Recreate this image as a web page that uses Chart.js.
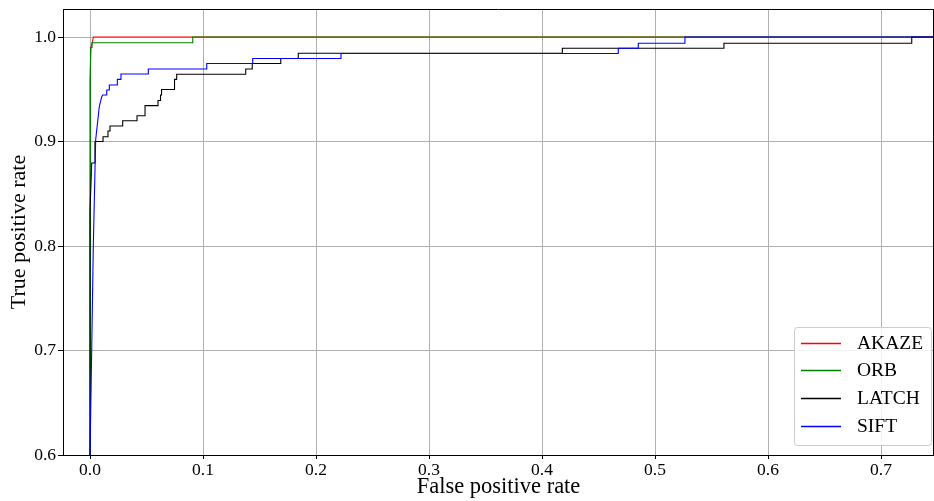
<!DOCTYPE html>
<html>
<head>
<meta charset="utf-8">
<script src="https://cdn.jsdelivr.net/npm/chart.js@4"></script>
<style>
  html, body { margin: 0; padding: 0; background: #fff; }
  #wrap { width: 934px; height: 501px; }
</style>
</head>
<body>
<div id="wrap"><canvas id="c" width="934" height="501"></canvas></div>
<script>
const seriesLabels = ["AKAZE", "ORB", "LATCH", "SIFT"];
const seriesColors = ["#ff0000", "#008000", "#000000", "#0000ff"];

const akazeFpr = [0, 0, 0.0009, 0.002, 0.003, 1];
const akazeTpr = [0, 0.959, 0.9907, 0.9945, 1.0, 1.0];

const orbFpr = [0, 0, 0.0006, 0.0006, 0.0018, 0.0018, 0.0909, 0.0909, 1];
const orbTpr = [0, 0.9876, 0.9876, 0.99, 0.99, 0.9945, 0.9945, 1.0, 1.0];

const latchFpr = [0, 0, 0.0015, 0.0044, 0.0044, 0.0115, 0.0115, 0.0159, 0.0159, 0.0177, 0.0177, 0.0289, 0.0289, 0.0416, 0.0416, 0.0487, 0.0487, 0.0602, 0.0602, 0.0624, 0.0624, 0.0633, 0.0633, 0.0748, 0.0748, 0.0767, 0.0767, 0.1378, 0.1378, 0.1436, 0.1436, 0.1688, 0.1688, 0.1843, 0.1843, 0.418, 0.418, 0.561, 0.561, 0.7272, 0.7272, 1];
const latchTpr = [0, 0.8344, 0.8794, 0.8794, 0.9, 0.9, 0.9046, 0.9046, 0.91, 0.91, 0.9148, 0.9148, 0.9199, 0.9199, 0.9247, 0.9247, 0.9343, 0.9343, 0.9392, 0.9392, 0.9445, 0.9445, 0.9498, 0.9498, 0.9595, 0.9595, 0.9643, 0.9643, 0.9694, 0.9694, 0.9746, 0.9746, 0.9794, 0.9794, 0.9844, 0.9844, 0.9892, 0.9892, 0.994, 0.994, 1.0, 1.0];

const siftFpr = [0, 0, 0.0015, 0.0029, 0.005, 0.0082, 0.0104, 0.0112, 0.0148, 0.0148, 0.0171, 0.0171, 0.0242, 0.0242, 0.0274, 0.0274, 0.0516, 0.0516, 0.1033, 0.1033, 0.144, 0.144, 0.2221, 0.2221, 0.4675, 0.4675, 0.4852, 0.4852, 0.5265, 0.5265, 1];
const siftTpr = [0, 0.6, 0.7005, 0.799, 0.9014, 0.9333, 0.9429, 0.9445, 0.9445, 0.9493, 0.9493, 0.9541, 0.9541, 0.9595, 0.9595, 0.9646, 0.9646, 0.9694, 0.9694, 0.9746, 0.9746, 0.9794, 0.9794, 0.9842, 0.9842, 0.9892, 0.9892, 0.994, 0.994, 1.0, 1.0];

const xTicks = [0, 0.1, 0.2, 0.3, 0.4, 0.5, 0.6, 0.7];
const yTicks = [0.6, 0.7, 0.8, 0.9, 1.0];
const xTitle = "False positive rate";
const yTitle = "True positive rate";

const FONT = "'Liberation Serif', 'DejaVu Serif', serif";

function pts(xs, ys) { return xs.map((x, i) => ({ x: x, y: ys[i] })); }

const allSeries = [[akazeFpr, akazeTpr], [orbFpr, orbTpr], [latchFpr, latchTpr], [siftFpr, siftTpr]];
const datasets = allSeries.map((s, i) => ({
  label: seriesLabels[i],
  data: pts(s[0], s[1]),
  borderColor: seriesColors[i],
  backgroundColor: seriesColors[i],
  borderWidth: 1.1,
  pointRadius: 0,
  tension: 0,
  fill: false,
  order: allSeries.length - 1 - i
}));

const framePlugin = {
  id: 'frame',
  afterDraw(chart) {
    const ctx = chart.ctx, a = chart.chartArea;
    ctx.save();
    ctx.setLineDash([]);
    ctx.strokeStyle = '#000';
    ctx.lineWidth = 1;
    ctx.beginPath();
    ctx.moveTo(a.left, a.top + 0.5);
    ctx.lineTo(a.right, a.top + 0.5);
    ctx.moveTo(a.right - 0.5, a.top);
    ctx.lineTo(a.right - 0.5, a.bottom);
    ctx.stroke();

    // legend inside the plot area (lower right)
    const boxW = 137, boxH = 118;
    const bx = a.right - 3 - boxW, by = a.bottom - 10 - boxH;
    ctx.fillStyle = 'rgba(255,255,255,0.85)';
    ctx.strokeStyle = '#cccccc';
    ctx.lineWidth = 1;
    ctx.beginPath();
    if (ctx.roundRect) ctx.roundRect(bx + 0.5, by + 0.5, boxW, boxH, 3);
    else ctx.rect(bx + 0.5, by + 0.5, boxW, boxH);
    ctx.fill();
    ctx.stroke();
    ctx.font = "19.5px " + FONT;
    ctx.textBaseline = 'middle';
    ctx.textAlign = 'left';
    seriesLabels.forEach((lab, i) => {
      const y = Math.round(by + 15.5 + i * 27.8);
      ctx.fillStyle = seriesColors[i];
      ctx.fillRect(bx + 7, y - 0.25, 40, 1.5);
      ctx.fillStyle = '#000';
      ctx.fillText(lab, bx + 63, y + 1);
    });
    ctx.restore();
  }
};

new Chart(document.getElementById('c'), {
  type: 'line',
  data: { datasets: datasets },
  options: {
    responsive: false,
    animation: false,
    devicePixelRatio: 1,
    layout: { padding: { top: 9, right: 0, left: 0, bottom: 0 } },
    plugins: { legend: { display: false }, tooltip: { enabled: false } },
    scales: {
      x: {
        type: 'linear',
        min: -0.0239,
        max: 0.7469,
        afterBuildTicks(scale) { scale.ticks = xTicks.map(v => ({ value: v })); },
        afterFit(scale) { scale.height = 46; scale.paddingLeft = 0; scale.paddingRight = 0; },
        ticks: {
          autoSkip: false, maxRotation: 0, minRotation: 0, includeBounds: false,
          color: '#000', padding: 1,
          font: { family: FONT, size: 17.5 },
          callback: v => Number(v).toFixed(1)
        },
        grid: { color: '#b0b0b0', lineWidth: 1, drawTicks: true, tickLength: 4, tickColor: '#000' },
        border: { display: true, color: '#000', width: 1 },
        title: { display: true, text: xTitle, color: '#000', font: { family: FONT, size: 22.5 }, padding: { top: 0, bottom: 0 } }
      },
      y: {
        type: 'linear',
        min: 0.6,
        max: 1.0268,
        afterBuildTicks(scale) { scale.ticks = yTicks.map(v => ({ value: v })); },
        afterFit(scale) { scale.width = 63; scale.paddingTop = 0; scale.paddingBottom = 0; },
        ticks: {
          autoSkip: false, includeBounds: false,
          color: '#000', padding: 2,
          font: { family: FONT, size: 17.5 },
          callback: v => Number(v).toFixed(1)
        },
        grid: { color: '#b0b0b0', lineWidth: 1, drawTicks: true, tickLength: 5, tickColor: '#000' },
        border: { display: true, color: '#000', width: 1 },
        title: { display: true, text: yTitle, color: '#000', font: { family: FONT, size: 22 }, padding: { top: 6, bottom: 0 } }
      }
    }
  },
  plugins: [framePlugin]
});
</script>
</body>
</html>
